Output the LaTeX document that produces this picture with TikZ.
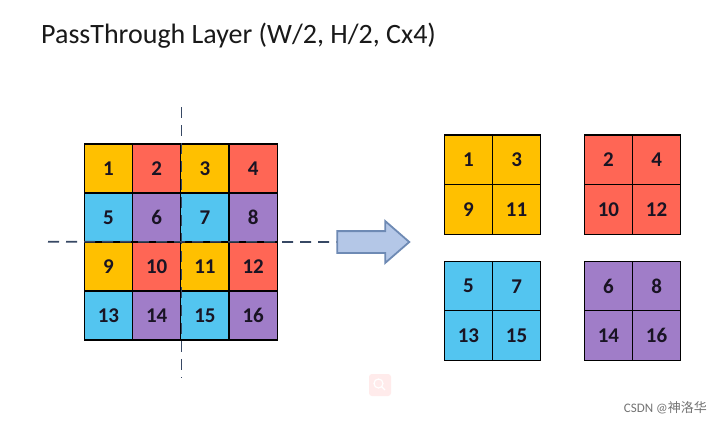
\documentclass[tikz,border=0pt]{standalone}
\usepackage{fontspec}
\setmainfont{Carlito}
\newfontfamily\cjk{Noto Sans CJK SC}
\usetikzlibrary{shapes.arrows}
\definecolor{cy}{RGB}{255,192,0}
\definecolor{cr}{RGB}{255,102,85}
\definecolor{cb}{RGB}{83,197,240}
\definecolor{cp}{RGB}{160,125,200}
\definecolor{dashc}{RGB}{55,72,100}
\definecolor{arrfill}{RGB}{180,199,231}
\definecolor{arrdraw}{RGB}{110,138,180}
\definecolor{numc}{RGB}{25,20,35}
\tikzset{
  cell/.style={draw=black, line width=1.2pt, minimum width=48.25pt, minimum height=49pt,
    inner sep=0pt, font=\fontsize{21}{23}\selectfont\bfseries, text=numc},
  rcell/.style={cell, minimum width=48.2pt, minimum height=49.6pt},
  cutline/.style={dashc, line width=1.6pt, dash pattern=on 11pt off 7pt},
}
\begin{document}
\begin{tikzpicture}[x=1pt,y=-1pt]
\fill[white] (0,0) rectangle (723,424);
\useasboundingbox (0,0) rectangle (723,424);
% title
\node[anchor=base west, inner sep=0pt, font=\fontsize{28}{30}\selectfont, text=black!90] (title) at (41,43) {PassThrough Layer (W/2, H/2, Cx4)};
% left grid
\foreach \n/\i/\j/\c in {1/0/0/cy,2/1/0/cr,3/2/0/cy,4/3/0/cr,
                         5/0/1/cb,6/1/1/cp,7/2/1/cb,8/3/1/cp,
                         9/0/2/cy,10/1/2/cr,11/2/2/cy,12/3/2/cr,
                         13/0/3/cb,14/1/3/cp,15/2/3/cb,16/3/3/cp}{
  \node[cell, fill=\c] (c\n) at ({84.3+48.25*(\i+0.5)},{144+49*(\j+0.5)}) {\n};
}
% right grids
\foreach \n/\i/\j/\c in {1/0/0/cy,3/1/0/cy,9/0/1/cy,11/1/1/cy}{
  \node[rcell, fill=\c] (y\n) at ({444.3+48.2*(\i+0.5)},{135+49.6*(\j+0.5)}) {\n};
}
\foreach \n/\i/\j/\c in {2/0/0/cr,4/1/0/cr,10/0/1/cr,12/1/1/cr}{
  \node[rcell, fill=\c] (r\n) at ({584.3+48.2*(\i+0.5)},{135+49.6*(\j+0.5)}) {\n};
}
\foreach \n/\i/\j/\c in {5/0/0/cb,7/1/0/cb,13/0/1/cb,15/1/1/cb}{
  \node[rcell, fill=\c] (b\n) at ({444.3+48.2*(\i+0.5)},{261.5+49.4*(\j+0.5)}) {\n};
}
\foreach \n/\i/\j/\c in {6/0/0/cp,8/1/0/cp,14/0/1/cp,16/1/1/cp}{
  \node[rcell, fill=\c] (p\n) at ({584.3+48.2*(\i+0.5)},{261.5+49.4*(\j+0.5)}) {\n};
}
% arrow
\node[single arrow, draw=arrdraw, fill=arrfill, line width=1.8pt, inner xsep=0pt, inner ysep=10pt,
  minimum height=72pt, single arrow head extend=10pt,
  single arrow tip angle=82] (arr) at (367,242) {};
% cut lines
\coordinate (vtop) at (181.3,107);
\coordinate (vbot) at (181.3,378);
\coordinate (hleft) at (48,241.7);
\draw[cutline] (vtop) -- (vbot);
\draw[cutline] (hleft) -- (arr.west);
% faint icon
\fill[red!8, rounded corners=3pt] (369,374) rectangle (391,396);
\draw[white, line width=1.2pt] (378.5,383.5) circle (4.5pt) (382,387) -- (385,390);
% watermark
\node[anchor=east, inner sep=0pt, text=black!55, font=\fontsize{13}{14}\selectfont] (wm) at (707,408) {CSDN @{\cjk 神洛华}};
\end{tikzpicture}
\end{document}
